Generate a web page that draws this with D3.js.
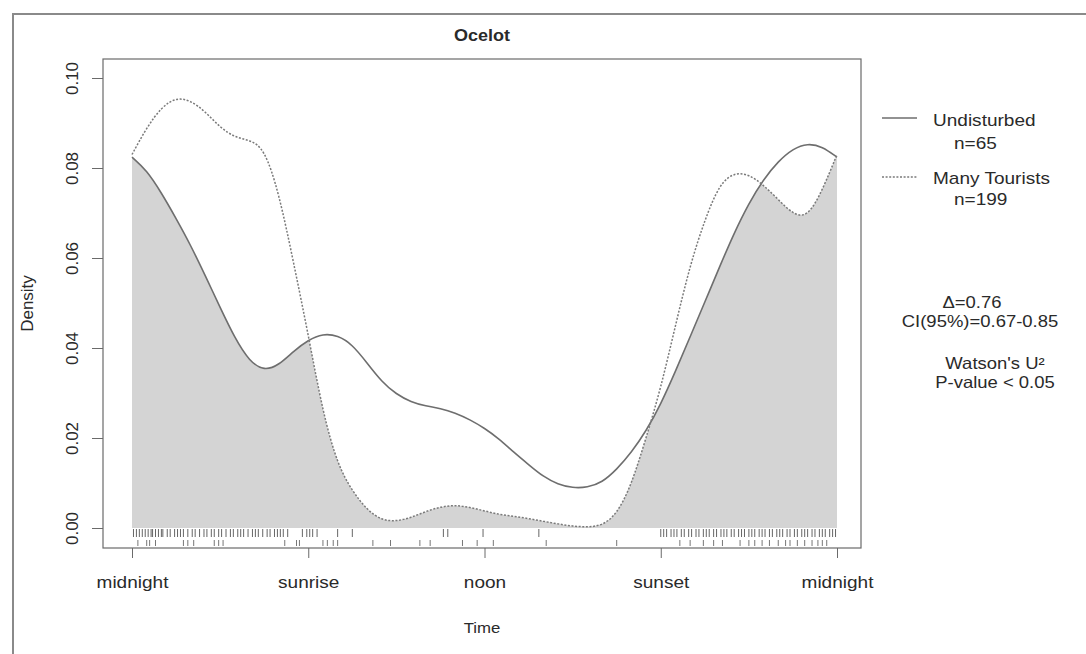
<!DOCTYPE html>
<html>
<head>
<meta charset="utf-8">
<script src="https://cdn.jsdelivr.net/npm/d3@7"></script>
<style>
  body { margin: 0; background: #fff; }
  text { font-family: "Liberation Sans", Arial, sans-serif; fill: #2a2a2a; }
</style>
</head>
<body>
<svg id="chart"></svg>
<script>
// hours of (sun) time, 0 = midnight, 6 = sunrise, 12 = noon, 18 = sunset
var hours = d3.range(0, 24.01, 0.5);

var undisturbed = [0.0824, 0.0795, 0.0745, 0.0688, 0.0628, 0.0560, 0.0490, 0.0422, 0.0370, 0.0349,
    0.0362, 0.0393, 0.0418, 0.0432, 0.0428, 0.0408, 0.0367, 0.0325, 0.0297, 0.0280,
    0.0271, 0.0266, 0.0256, 0.0241, 0.0222, 0.0198, 0.0168, 0.0141, 0.0114, 0.0097,
    0.0089, 0.0090, 0.0101, 0.0130, 0.0168, 0.0215, 0.0275, 0.0348, 0.0425, 0.0502,
    0.0580, 0.0656, 0.0722, 0.0775, 0.0815, 0.0843, 0.0855, 0.0848, 0.0824];

var tourists = [0.0830, 0.0890, 0.0935, 0.0957, 0.0950, 0.0925, 0.0890, 0.0868, 0.0862, 0.0845,
    0.0745, 0.0590, 0.0430, 0.0255, 0.0140, 0.0082, 0.0040, 0.0017, 0.0015, 0.0023,
    0.0037, 0.0047, 0.0051, 0.0046, 0.0038, 0.0030, 0.0026, 0.0021, 0.0015, 0.0009,
    0.0004, 0.0002, 0.0005, 0.0030, 0.0095, 0.0200, 0.0310, 0.0450, 0.0585, 0.0685,
    0.0765, 0.0790, 0.0786, 0.0762, 0.0730, 0.0697, 0.0690, 0.0750, 0.0830];

// rug: observed detection times
var rugTourists = [0.05, 0.15, 0.25, 0.35, 0.45, 0.55, 0.65, 0.7, 0.8, 0.9, 1.0, 1.05, 1.2, 1.3, 1.45,
    1.55, 1.65, 1.75, 1.9, 2.05, 2.15, 2.3, 2.45, 2.55, 2.7, 2.8, 2.95, 3.05, 3.2, 3.35, 3.45, 3.6,
    3.7, 3.8, 3.95, 4.1, 4.2, 4.3, 4.45, 4.6, 4.7, 4.85, 4.95, 5.05, 5.15, 5.3, 5.8, 5.95, 6.05,
    6.15, 6.3, 7.0, 7.5, 10.6, 10.75, 11.95, 13.85, 18.0, 18.1, 18.2, 18.35, 18.45, 18.55, 18.7,
    18.8, 18.95, 19.05, 19.2, 19.3, 19.45, 19.55, 19.65, 19.8, 19.9, 20.05, 20.15, 20.25, 20.4,
    20.5, 20.65, 20.75, 20.85, 21.0, 21.1, 21.2, 21.35, 21.45, 21.55, 21.7, 21.8, 21.95, 22.05,
    22.15, 22.3, 22.4, 22.55, 22.65, 22.8, 22.9, 23.0, 23.15, 23.25, 23.4, 23.5, 23.6, 23.75,
    23.85, 23.95];
var rugUndisturbed = [0.2, 0.5, 0.6, 0.8, 1.75, 1.9, 2.1, 2.8, 2.95, 3.1, 5.2, 5.6, 5.7, 6.5, 6.65,
    6.85, 7.0, 8.2, 8.8, 9.8, 10.15, 11.25, 11.75, 12.3, 14.1, 16.5, 18.65, 19.0, 19.45, 19.8,
    20.1, 20.7, 21.0, 21.2, 21.45, 21.7, 22.0, 22.25, 22.4, 22.65, 22.9, 23.15, 23.35, 23.5, 23.65];

var yTicks = [0, 0.02, 0.04, 0.06, 0.08, 0.10];
var xTicks = [0, 6, 12, 18, 24];
var xTickLabels = ['midnight', 'sunrise', 'noon', 'sunset', 'midnight'];

var margins = {top: 59, right: 225, bottom: 106, left: 103},
    W = 1086, H = 654,
    width = W - margins.left - margins.right,
    height = H - margins.top - margins.bottom;

// the picture is a bit stretched sideways, so horizontal text gets a small x-scale
var stretch = 'scale(1.12,1)';

var svg = d3.select('#chart')
    .attr('width', W)
    .attr('height', H);

// outer frame
svg.append('path')
    .attr('d', 'M13,654V14H1086')
    .style('fill', 'none')
    .style('stroke', '#8a8a8a')
    .style('stroke-width', 2);

var g = svg.append('g')
    .attr('transform', 'translate(' + margins.left + ',' + margins.top + ')');

var xScale = d3.scaleLinear().domain([0, 24]).range([29, 734]);
var yScale = d3.scaleLinear().domain([0, 0.10]).range([469, 19]);

var rows = hours.map(function (h, i) {
    return {h: h, u: undisturbed[i], t: tourists[i]};
});

var curve = d3.curveBasis;

var areaU = d3.area().x(d => xScale(d.h)).y0(yScale(0)).y1(d => yScale(d.u)).curve(curve);
var areaT = d3.area().x(d => xScale(d.h)).y0(yScale(0)).y1(d => yScale(d.t)).curve(curve);

// overlap = area under one curve clipped by the area under the other
g.append('clipPath')
    .attr('id', 'under-tourists')
    .append('path')
    .datum(rows)
    .attr('d', areaT);

g.append('path')
    .datum(rows)
    .attr('d', areaU)
    .attr('clip-path', 'url(#under-tourists)')
    .style('fill', '#d4d4d4');

g.append('path')
    .datum(rows)
    .attr('d', d3.line().x(d => xScale(d.h)).y(d => yScale(d.u)).curve(curve))
    .style('fill', 'none')
    .style('stroke', '#6e6e6e')
    .style('stroke-width', 1.6);

g.append('path')
    .datum(rows)
    .attr('d', d3.line().x(d => xScale(d.h)).y(d => yScale(d.t)).curve(curve))
    .style('fill', 'none')
    .style('stroke', '#7a7a7a')
    .style('stroke-width', 1.5)
    .style('stroke-dasharray', '2,1.6');

// rugs
g.selectAll('.rugT')
    .data(rugTourists)
    .enter()
    .append('line')
    .attr('class', 'rugT')
    .attr('x1', d => xScale(d)).attr('x2', d => xScale(d))
    .attr('y1', 470).attr('y2', 478)
    .style('stroke', '#666')
    .style('stroke-width', 1);

g.selectAll('.rugU')
    .data(rugUndisturbed)
    .enter()
    .append('line')
    .attr('class', 'rugU')
    .attr('x1', d => xScale(d)).attr('x2', d => xScale(d))
    .attr('y1', 481).attr('y2', 487)
    .style('stroke', '#777')
    .style('stroke-width', 1);

// plot box
g.append('rect')
    .attr('width', width)
    .attr('height', height)
    .style('fill', 'none')
    .style('stroke', '#6a6a6a')
    .style('stroke-width', 1.2);

var yaxis = g.append('g')
    .call(d3.axisLeft(yScale).tickValues(yTicks).tickFormat(d3.format('.2f')).tickSize(11));
yaxis.select('.domain').remove();
yaxis.selectAll('line').style('stroke', '#6a6a6a');
yaxis.selectAll('text')
    .attr('transform', 'rotate(-90)')
    .attr('x', 0)
    .attr('y', -25)
    .attr('dy', 0)
    .style('text-anchor', 'middle')
    .style('font-size', '17px');

var xaxis = g.append('g')
    .attr('transform', 'translate(0,' + height + ')')
    .call(d3.axisBottom(xScale).tickValues(xTicks).tickFormat((d, i) => xTickLabels[i]).tickSize(10).tickPadding(18));
xaxis.select('.domain').remove();
xaxis.selectAll('line').style('stroke', '#6a6a6a');
xaxis.selectAll('text')
    .attr('transform', stretch)
    .style('font-size', '17px');

svg.append('text')
    .attr('transform', 'translate(' + (margins.left + width / 2) + ',41) scale(1.06,1)')
    .attr('text-anchor', 'middle')
    .style('font-size', '17px')
    .style('font-weight', 'bold')
    .text('Ocelot');

svg.append('text')
    .attr('transform', 'translate(' + (margins.left + width / 2) + ',633) ' + stretch)
    .attr('text-anchor', 'middle')
    .style('font-size', '15px')
    .text('Time');

svg.append('text')
    .attr('transform', 'translate(33,' + (margins.top + height / 2) + ') rotate(-90)')
    .attr('text-anchor', 'middle')
    .style('font-size', '17px')
    .text('Density');

// legend
var legend = svg.append('g');
legend.append('line')
    .attr('x1', 882).attr('x2', 917).attr('y1', 118).attr('y2', 118)
    .style('stroke', '#6e6e6e').style('stroke-width', 1.4);
legend.append('line')
    .attr('x1', 882).attr('x2', 917).attr('y1', 177).attr('y2', 177)
    .style('stroke', '#7a7a7a').style('stroke-width', 1.4).style('stroke-dasharray', '2,1.6');

var legendText = [
    ['Undisturbed', 933, 126], ['n=65', 954, 149],
    ['Many Tourists', 933, 184], ['n=199', 954, 205]
];
legend.selectAll('text')
    .data(legendText)
    .enter()
    .append('text')
    .attr('transform', d => 'translate(' + d[1] + ',' + d[2] + ') ' + stretch)
    .style('font-size', '17px')
    .text(d => d[0]);

var stats = [
    ['\u0394=0.76', 972, 308], ['CI(95%)=0.67-0.85', 980, 327],
    ['Watson\'s U\u00b2', 995, 369], ['P-value < 0.05', 995, 388]
];
svg.selectAll('.stat')
    .data(stats)
    .enter()
    .append('text')
    .attr('class', 'stat')
    .attr('transform', d => 'translate(' + d[1] + ',' + d[2] + ') ' + stretch)
    .attr('text-anchor', 'middle')
    .style('font-size', '16.5px')
    .text(d => d[0]);
</script>
</body>
</html>
